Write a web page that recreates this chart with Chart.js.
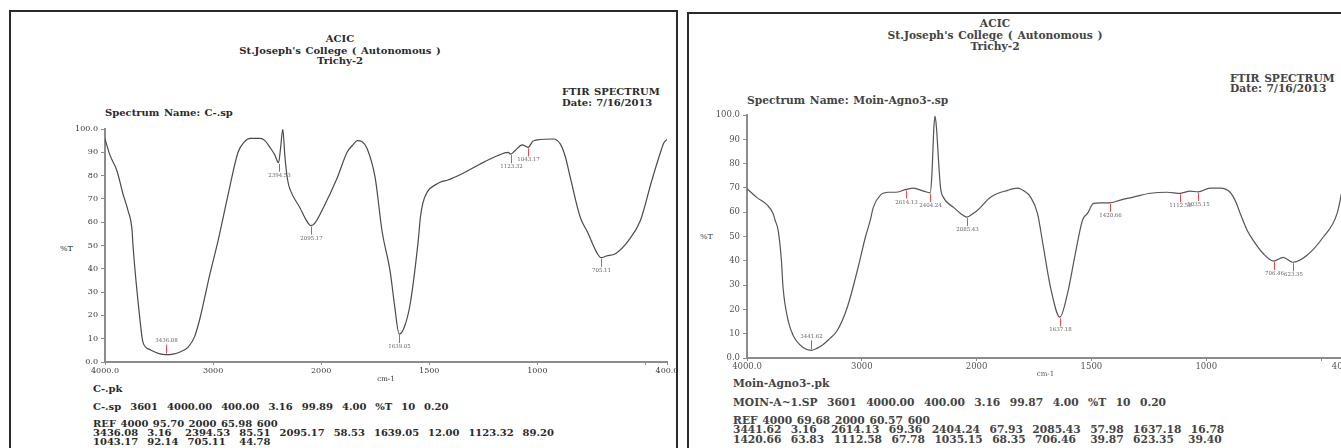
<!DOCTYPE html>
<html lang="en">
<head>
<meta charset="UTF-8" />
<title>FTIR Spectrum - C-.sp / Moin-Agno3-.sp</title>
<style>
  html, body { margin: 0; padding: 0; width: 1341px; height: 448px; overflow: hidden; background: #fff; }
  body { position: relative; font-family: "DejaVu Serif", serif; color: #2a2a2a; }
  .panel { position: absolute; border: 2px solid #2a2a2a; box-sizing: border-box; }
  .t { position: absolute; white-space: pre; line-height: 10px; font-size: 10px; font-weight: bold; word-spacing: 1px; }
  .c { transform: translateX(-50%); text-align: center; }
  .right .t { color: #444; font-size: 10.7px; }
  .left .t.small, .right .t.small { font-size: 8px; font-weight: normal; }
  canvas { position: absolute; }
</style>
</head>
<body>
  <div class="panel" style="left:9px; top:10px; width:669px; height:460px;"></div>
  <div class="panel" style="left:687px; top:12px; width:670px; height:460px;"></div>

  <div class="left">
    <div class="t c" style="left:340px; top:34px;">ACIC</div>
    <div class="t c" style="left:340px; top:46px;">St.Joseph's College ( Autonomous )</div>
    <div class="t c" style="left:340px; top:56px;">Trichy-2</div>
    <div class="t" style="left:562px; top:87px;">FTIR SPECTRUM</div>
    <div class="t" style="left:562px; top:98px;">Date: 7/16/2013</div>
    <div class="t" style="left:105px; top:108px;">Spectrum Name: C-.sp</div>
    <div class="t small" style="left:60px; top:244px;">%T</div>
    <div class="t" style="left:93px; top:384px;">C-.pk</div>
    <div class="t" style="left:93px; top:402px;">C-.sp  3601  4000.00  400.00  3.16  99.89  4.00  %T  10  0.20</div>
    <div class="t" style="left:93px; top:419px;">REF 4000 95.70 2000 65.98 600</div>
    <div class="t" style="left:93px; top:428px;">3436.08  3.16   2394.53  85.51  2095.17  58.53  1639.05  12.00  1123.32  89.20</div>
    <div class="t" style="left:93px; top:437px;">1043.17  92.14  705.11   44.78</div>
  </div>

  <div class="right">
    <div class="t c" style="left:995px; top:19px;">ACIC</div>
    <div class="t c" style="left:995px; top:31px;">St.Joseph's College ( Autonomous )</div>
    <div class="t c" style="left:995px; top:42px;">Trichy-2</div>
    <div class="t" style="left:1230px; top:74px;">FTIR SPECTRUM</div>
    <div class="t" style="left:1230px; top:84px;">Date: 7/16/2013</div>
    <div class="t" style="left:747px; top:96px;">Spectrum Name: Moin-Agno3-.sp</div>
    <div class="t small" style="left:700px; top:232px;">%T</div>
    <div class="t" style="left:733px; top:379px;">Moin-Agno3-.pk</div>
    <div class="t" style="left:733px; top:398px;">MOIN-A~1.SP  3601  4000.00  400.00  3.16  99.87  4.00  %T  10  0.20</div>
    <div class="t" style="left:733px; top:416px;">REF 4000 69.68 2000 60.57 600</div>
    <div class="t" style="left:733px; top:425px;">3441.62  3.16   2614.13  69.36  2404.24  67.93  2085.43  57.98  1637.18  16.78</div>
    <div class="t" style="left:733px; top:435px;">1420.66  63.83  1112.58  67.78  1035.15  68.35  706.46   39.87  623.35   39.40</div>
  </div>

  <canvas id="leftChart" width="637" height="273" style="left:40px; top:110px;"></canvas>
  <canvas id="rightChart" width="665" height="278" style="left:682px; top:100px;"></canvas>

  <script src="https://cdn.jsdelivr.net/npm/chart.js@4.4.2/dist/chart.umd.min.js"></script>
  <script>
    // axis ticks shared by both spectra (cm-1 and %T)
    const xTicks = [4000, 3000, 2000, 1500, 1000, 500, 400];
    const xTickLabels = ["4000.0", "3000", "2000", "1500", "1000", "", "400.0"];
    const yTicks = [0, 10, 20, 30, 40, 50, 60, 70, 80, 90, 100];
    const yTickLabels = ["0.0", "10", "20", "30", "40", "50", "60", "70", "80", "90", "100.0"];

    // C-.sp
    const leftWavenumbers = [
      4000, 3954, 3889, 3833, 3787, 3750, 3741, 3676, 3648, 3583, 3500, 3436.08, 3370, 3306, 3231,
      3170, 3120, 3028, 2954, 2907, 2860, 2769, 2710, 2657, 2565, 2520, 2472, 2430, 2394.53, 2375,
      2355, 2335, 2310, 2287, 2194, 2140, 2095.17, 2060, 1991, 1926, 1880, 1850, 1833, 1810, 1787,
      1750, 1718, 1681, 1660, 1639.05, 1615, 1588, 1551, 1541, 1530, 1509, 1463, 1440, 1417, 1343,
      1264, 1185, 1135, 1123.32, 1100, 1070, 1043.17, 1020, 1000, 926, 894, 870, 847, 801, 769,
      722, 705.11, 680, 639, 579, 523, 470, 430, 415, 400,
    ];
    const leftTransmittance = [
      95.7, 88.8, 82, 72, 65, 56.7, 50, 18, 8.3, 5.3, 3.6, 3.16, 3.4, 4.3, 6.4,
      11, 19, 38, 52, 62, 72, 90, 94.5, 96, 96, 95, 92, 89, 85.51, 92,
      99.89, 88, 78, 74, 66, 61, 58.53, 59.5, 66, 79, 90, 93.5, 95, 94.5, 91.5,
      79, 56, 39, 24, 12.0, 15, 25, 52, 62, 68, 73, 76.5, 77.5, 78, 81,
      85, 88.5, 90, 89.2, 91, 93.2, 92.14, 94.8, 95.3, 95.7, 93.6, 88, 79, 62, 56,
      46.5, 44.78, 45.5, 46.5, 52, 60.7, 78, 90, 94, 95.5,
    ];
    const leftPeakWavenumbers = [3436.08, 2394.53, 2095.17, 1639.05, 1123.32, 1043.17, 705.11];
    const leftPeakValues = [3.16, 85.51, 58.53, 12.0, 89.2, 92.14, 44.78];

    // Moin-Agno3-.sp
    const rightWavenumbers = [
      4000, 3913, 3825, 3773, 3755, 3729, 3700, 3686, 3642, 3598, 3511, 3441.62, 3362, 3290, 3214,
      3127, 3039, 2969, 2926, 2900, 2838, 2769, 2707, 2614.13, 2550, 2463, 2404.24, 2390, 2372, 2362,
      2350, 2330, 2314, 2288, 2201, 2140, 2085.43, 2030, 1996, 1939, 1865, 1822, 1790, 1765, 1735,
      1709, 1678, 1637.18, 1604, 1570, 1539, 1517, 1491, 1460, 1420.66, 1374, 1317, 1243, 1170, 1112.58,
      1070, 1035.15, 983, 939, 896, 870, 852, 822, 796, 752, 706.46, 665, 623.35, 561, 491,
      430, 400,
    ];
    const rightTransmittance = [
      69.7, 66, 63, 59.5, 56.7, 52.6, 40, 29, 15.5, 9.3, 4.3, 3.16, 4.7, 7.5, 11.3,
      20.8, 36, 49.7, 56.7, 62, 67, 68.2, 68.2, 69.36, 69.9, 68.7, 67.93, 75, 95, 99.5,
      95, 80, 70, 66, 62, 59.5, 57.98, 59.5, 60.8, 66.2, 69, 69.9, 68.5, 66.2, 59.5,
      45.6, 29, 16.78, 26.6, 43, 56.7, 59.5, 63.6, 63.8, 63.83, 65, 66.2, 67.8, 68.2, 67.78,
      68.7, 68.35, 69.9, 69.9, 68.2, 64, 59.5, 52.6, 48.5, 43, 39.87, 41.4, 39.4, 42.3, 49.7,
      59.5, 73,
    ];
    const rightPeakWavenumbers = [3441.62, 2614.13, 2404.24, 2085.43, 1637.18, 1420.66, 1112.58, 1035.15, 706.46, 623.35];
    const rightPeakValues = [3.16, 69.36, 67.93, 57.98, 16.78, 63.83, 67.78, 68.35, 39.87, 39.4];

    // FTIR printouts stretch the axis 2x below 2000 cm-1
    class FtirScale extends Chart.LinearScale {
      buildTicks() {
        return xTicks.map((value) => ({ value }));
      }
      _units(v) {
        return v >= 2000 ? 4000 - v : 2000 + (2000 - v) * 2;
      }
      getPixelForValue(v) {
        return this._startPixel + (this._units(v) / 5200) * this._length;
      }
      getValueForPixel(p) {
        const u = ((p - this._startPixel) / this._length) * 5200;
        return u <= 2000 ? 4000 - u : 2000 - (u - 2000) / 2;
      }
    }
    FtirScale.id = "ftir";
    FtirScale.defaults = Chart.LinearScale.defaults;
    Chart.register(FtirScale);

    const peakMarks = {
      id: "peakMarks",
      afterDatasetsDraw(chart, args, opts) {
        const { ctx, scales } = chart;
        ctx.save();
        ctx.font = "5.5px 'DejaVu Serif'";
        ctx.textAlign = "center";
        ctx.lineWidth = 1;
        opts.wavenumbers.forEach((w, i) => {
          const px = Math.round(scales.x.getPixelForValue(w)) + 0.5;
          const py = scales.y.getPixelForValue(opts.values[i]);
          const up = opts.values[i] < 8;
          const y0 = up ? py - 1 : py + 1;
          const y1 = up ? py - 10 : py + 9;
          ctx.strokeStyle = "#d9534f";
          ctx.beginPath();
          ctx.moveTo(px, y0);
          ctx.lineTo(px, y1);
          ctx.stroke();
          ctx.fillStyle = "#666";
          ctx.textBaseline = up ? "bottom" : "top";
          ctx.fillText(w.toFixed(2), px, up ? y1 - 1 : y1 + 1);
        });
        ctx.restore();
      },
    };

    function makeSpectrum(id, wavenumbers, transmittance, peaks, peakValues, look) {
      const points = wavenumbers.map((w, i) => ({ x: w, y: transmittance[i] }));
      return new Chart(document.getElementById(id), {
        type: "line",
        data: {
          datasets: [{
            data: points,
            borderColor: look.line,
            borderWidth: 1.2,
            pointRadius: 0,
            cubicInterpolationMode: "monotone",
            fill: false,
          }],
        },
        options: {
          responsive: false,
          animation: false,
          layout: { padding: look.padding },
          plugins: {
            legend: { display: false },
            tooltip: { enabled: false },
            peakMarks: { wavenumbers: peaks, values: peakValues },
          },
          scales: {
            x: {
              type: "ftir",
              min: 400,
              max: 4000,
              afterFit(scale) {
                scale.height = look.xHeight;
                scale.paddingLeft = 0;
                scale.paddingRight = 0;
              },
              border: { display: true, color: "#8c8c8c", width: 2 },
              grid: { drawOnChartArea: false, drawTicks: true, tickLength: 3, color: "#8c8c8c" },
              ticks: {
                autoSkip: false,
                maxRotation: 0,
                padding: 1,
                color: look.text,
                font: { family: "DejaVu Serif", size: look.tickSize },
                callback: (v) => xTickLabels[xTicks.indexOf(v)],
              },
              title: {
                display: true,
                text: "cm-1",
                color: look.text,
                padding: 0,
                font: { family: "DejaVu Serif", size: 7 },
              },
            },
            y: {
              min: 0,
              max: 100,
              afterFit(scale) {
                scale.width = 65;
                scale.paddingTop = 0;
                scale.paddingBottom = 0;
              },
              afterBuildTicks(scale) {
                scale.ticks = yTicks.map((value) => ({ value }));
              },
              border: { display: true, color: "#8c8c8c", width: 2 },
              grid: { drawOnChartArea: false, drawTicks: true, tickLength: 4, color: "#8c8c8c" },
              ticks: {
                padding: 3,
                color: look.text,
                font: { family: "DejaVu Serif", size: look.tickSize },
                callback: (v) => yTickLabels[yTicks.indexOf(v)],
              },
            },
          },
        },
        plugins: [peakMarks],
      });
    }

    makeSpectrum("leftChart", leftWavenumbers, leftTransmittance, leftPeakWavenumbers, leftPeakValues, {
      line: "#4a4a4a",
      text: "#3a3a3a",
      tickSize: 8,
      padding: { top: 19, right: 10, left: 0, bottom: 0 },
      xHeight: 21,
    });
    makeSpectrum("rightChart", rightWavenumbers, rightTransmittance, rightPeakWavenumbers, rightPeakValues, {
      line: "#555555",
      text: "#555555",
      tickSize: 8.5,
      padding: { top: 15, right: 3, left: 0, bottom: 0 },
      xHeight: 20,
    });
  </script>
</body>
</html>
